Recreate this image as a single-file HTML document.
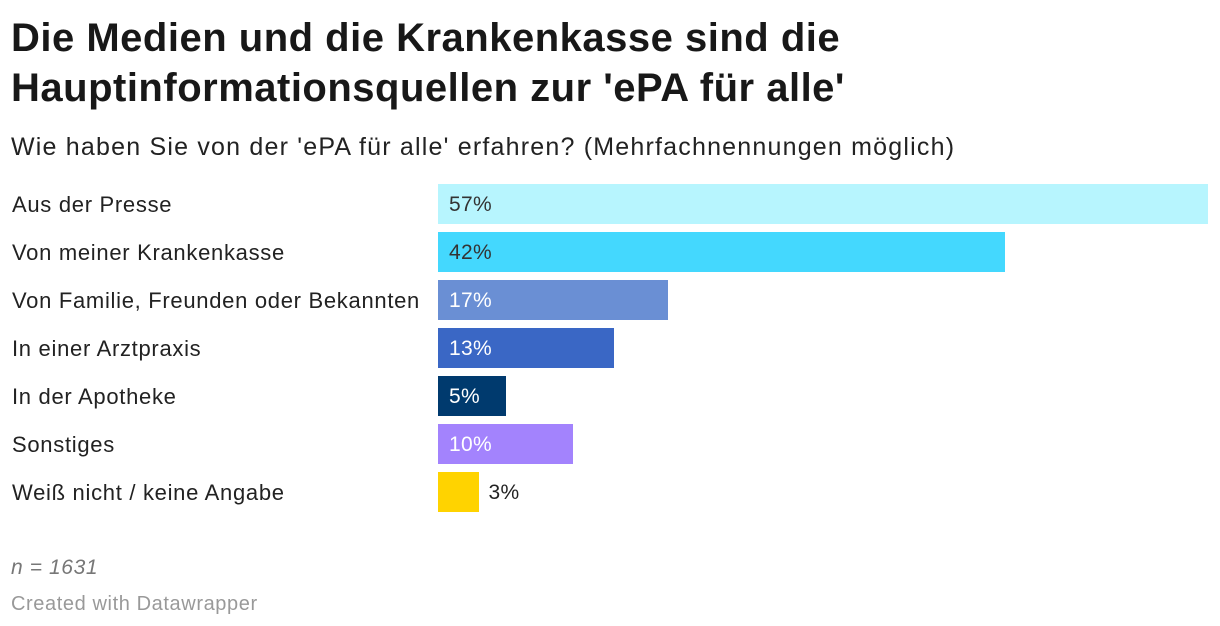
<!DOCTYPE html>
<html><head><meta charset="utf-8"><style>
body{margin:0;width:1220px;height:626px;background:#fff;font-family:"Liberation Sans",sans-serif;color:#181818;position:relative;overflow:hidden}
#title{position:absolute;left:11px;top:13px;font-size:40px;font-weight:bold;line-height:50px;letter-spacing:0.5px;margin:0}
#sub{position:absolute;left:11px;top:133px;font-size:25px;letter-spacing:1.2px;color:#222}
.lab{position:absolute;left:12px;font-size:22px;letter-spacing:0.7px;line-height:40px;color:#222}
.bar{position:absolute;height:40px}
.val{position:absolute;font-size:21px;letter-spacing:0.3px;line-height:40px}
#n{position:absolute;left:11px;top:556px;font-size:21px;letter-spacing:0.6px;font-style:italic;color:#777}
#credit{position:absolute;left:11px;top:593px;font-size:20px;letter-spacing:0.6px;color:#999}
</style></head><body>
<h1 id="title">Die Medien und die Krankenkasse sind die<br>Hauptinformationsquellen zur 'ePA für alle'</h1>
<div id="sub">Wie haben Sie von der 'ePA für alle' erfahren? (Mehrfachnennungen möglich)</div>
<div id="chart"></div>
<div id="n">n = 1631</div>
<div id="credit">Created with Datawrapper</div>
<script>
const categories=["Aus der Presse","Von meiner Krankenkasse","Von Familie, Freunden oder Bekannten","In einer Arztpraxis","In der Apotheke","Sonstiges","Weiß nicht / keine Angabe"];
const values=[57,42,17,13,5,10,3];
const colors=["#b7f5fe","#44d8fe","#6a8fd4","#3a67c5","#003a6e","#a383fd","#ffd300"];
const textColors=["#333","#333","#fff","#fff","#fff","#fff","#222"];
const x0=438,scale=770/57,top0=184,step=48;
const c=document.getElementById('chart');
categories.forEach((cat,i)=>{
  const y=top0+i*step;
  const l=document.createElement('div');l.className='lab';l.style.top=(y+1)+'px';l.textContent=cat;
  
  
  c.appendChild(l);
  const w=values[i]*scale;
  const b=document.createElement('div');b.className='bar';
  b.style.left=x0+'px';b.style.top=y+'px';b.style.width=w+'px';b.style.background=colors[i];
  
  
  c.appendChild(b);
  const v=document.createElement('div');v.className='val';v.textContent=values[i]+'%';
  v.style.top=(y+1)+'px';v.style.color=textColors[i];
  v.style.left=(w<60?x0+w+10:x0+11)+'px';
  
  
  c.appendChild(v);
});
</script>
</body></html>
